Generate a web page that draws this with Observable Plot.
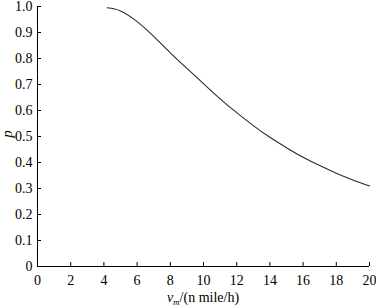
<!DOCTYPE html>
<html><head><meta charset="utf-8">
<script src="https://cdn.jsdelivr.net/npm/d3@7"></script>
<script src="https://cdn.jsdelivr.net/npm/@observablehq/plot@0.6"></script>
<style>body{margin:0;background:#fff} svg text{font-family:"Liberation Serif","Times New Roman","DejaVu Serif" !important;}</style>
</head><body><div id="chart"></div>
<script>
const speeds = [4.2, 5, 6, 7, 8, 9, 10, 11, 12, 13, 14, 15, 16, 17, 18, 19, 20];
const probs = [0.995, 0.983, 0.942, 0.885, 0.822, 0.762, 0.703, 0.645, 0.592, 0.542, 0.497, 0.457, 0.42, 0.388, 0.359, 0.333, 0.31];
const xTicks = [0, 2, 4, 6, 8, 10, 12, 14, 16, 18, 20];
const yTicks = [0, 0.1, 0.2, 0.3, 0.4, 0.5, 0.6, 0.7, 0.8, 0.9, 1.0];
const xLabelParts = ["v", "m", "/(n mile/h)"];
const yLabel = "p";

const data = speeds.map((v, i) => ({v, p: probs[i]}));
const serif = "'Liberation Serif', 'Times New Roman', 'DejaVu Serif'";

const chart = Plot.plot({
  width: 376, height: 308,
  marginLeft: 37, marginRight: 7, marginTop: 6, marginBottom: 42,
  style: {fontFamily: serif, fontSize: "14px", color: "#000", background: "#fff"},
  x: {domain: [0, 20], label: null},
  y: {domain: [0, 1], label: null},
  marks: [
    Plot.axisX({ticks: xTicks, tickSize: -4, tickPadding: 13, label: null, tickFormat: d => String(d), stroke: "#000", fontSize: 14}),
    Plot.axisY({ticks: yTicks, tickSize: -4, tickPadding: 9, label: null, tickFormat: d => d === 0 ? "0" : d.toFixed(1), stroke: "#000", fontSize: 14}),
    Plot.ruleX([0], {stroke: "#000", strokeWidth: 1}),
    Plot.ruleY([0], {stroke: "#000", strokeWidth: 1}),
    Plot.line(data, {x: "v", y: "p", curve: "natural", stroke: "#2a2a2a", strokeWidth: 1.1})
  ]
});
document.getElementById("chart").appendChild(chart);

const svg = d3.select(chart);
const xl = svg.append("text")
  .attr("x", 203).attr("y", 302)
  .attr("text-anchor", "middle")
  .attr("font-size", 14)
  .attr("fill", "#000");
xl.append("tspan").attr("font-style", "italic").text(xLabelParts[0]);
xl.append("tspan").attr("font-style", "italic").attr("font-size", 9).attr("dy", 3).text(xLabelParts[1]);
xl.append("tspan").attr("dy", -3).text(xLabelParts[2]);

svg.append("text")
  .attr("transform", "translate(12,134) rotate(-90)")
  .attr("text-anchor", "middle")
  .attr("font-style", "italic")
  .attr("font-size", 15)
  .attr("fill", "#000")
  .text(yLabel);
</script>
</body></html>
